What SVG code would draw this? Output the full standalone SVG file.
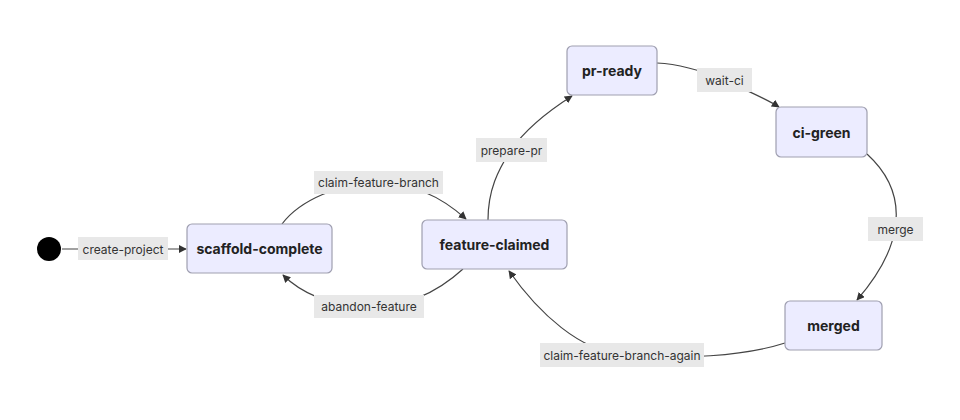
<svg xmlns="http://www.w3.org/2000/svg" width="960" height="420" viewBox="0 0 960 420">
<defs>
<marker id="arr" viewBox="0 0 10 10" refX="9" refY="5" markerWidth="8" markerHeight="8" markerUnits="userSpaceOnUse" orient="auto">
<path d="M0,0 L10,5 L0,10 z" fill="#333"/>
</marker>
<style>
.node rect{fill:#ECECFF;stroke:#9f9fb0;stroke-width:1.2}
.node text{font-family:Inter,"Liberation Sans",sans-serif;font-size:14px;font-weight:700;fill:#222;text-anchor:middle;dominant-baseline:central}
.edge path{fill:none;stroke:#444;stroke-width:1.2}
.lbl rect{fill:#e8e8e8}
.lbl text{font-family:Inter,"Liberation Sans",sans-serif;font-size:12px;fill:#333;text-anchor:middle;dominant-baseline:central}
</style>
</defs>
<rect width="960" height="420" fill="#fff"/>
<g id="connectors">
<g class="edge"><path d="M62,249 L186,249" marker-end="url(#arr)"/></g>
<g class="edge"><path d="M282,224 C300,200 340,183 378,183 C415,183 445,200 466,219" marker-end="url(#arr)"/></g>
<g class="edge"><path d="M463,269 C440,290 410,307 369,307 C330,307 300,292 283,275" marker-end="url(#arr)"/></g>
<g class="edge"><path d="M488,220 C488,190 498,170 511,150 C525,130 550,110 572,96" marker-end="url(#arr)"/></g>
<g class="edge"><path d="M657,63 C680,64 705,72 724,80 C745,90 765,98 779,107" marker-end="url(#arr)"/></g>
<g class="edge"><path d="M867,154 C890,175 900,200 895,229 C890,260 870,285 857,300" marker-end="url(#arr)"/></g>
<g class="edge"><path d="M785,343 C745,356 680,360 622,355 C580,350 540,315 509,271" marker-end="url(#arr)"/></g>
<g class="lbl"><rect x="78" y="237" width="90" height="23"/><text x="123" y="249">create-project</text></g>
<g class="lbl"><rect x="314" y="171" width="129" height="23"/><text x="378.5" y="182.5">claim-feature-branch</text></g>
<g class="lbl"><rect x="314" y="295" width="110" height="23"/><text x="369" y="306.5">abandon-feature</text></g>
<g class="lbl"><rect x="476" y="138" width="71" height="24"/><text x="511.5" y="150">prepare-pr</text></g>
<g class="lbl"><rect x="697" y="68" width="55" height="24"/><text x="724.5" y="80">wait-ci</text></g>
<g class="lbl"><rect x="868" y="217" width="55" height="24"/><text x="895.5" y="229">merge</text></g>
<g class="lbl"><rect x="540" y="343" width="164" height="24"/><text x="622" y="355">claim-feature-branch-again</text></g>
</g>
<g id="start"><circle cx="49" cy="249" r="12" fill="#000"/></g>
<g id="scaffold-complete" class="node"><rect x="187" y="224" width="145" height="49" rx="5"/><text x="259.5" y="248.5">scaffold-complete</text></g>
<g id="feature-claimed" class="node"><rect x="422" y="220" width="145" height="49" rx="5"/><text x="494.5" y="244.5">feature-claimed</text></g>
<g id="pr-ready" class="node"><rect x="567" y="46" width="90" height="49" rx="5"/><text x="612" y="70.5">pr-ready</text></g>
<g id="ci-green" class="node"><rect x="776" y="107" width="91" height="50" rx="5"/><text x="821.5" y="132">ci-green</text></g>
<g id="merged" class="node"><rect x="785" y="301" width="97" height="49" rx="5"/><text x="833.5" y="325.5">merged</text></g>
</svg>
